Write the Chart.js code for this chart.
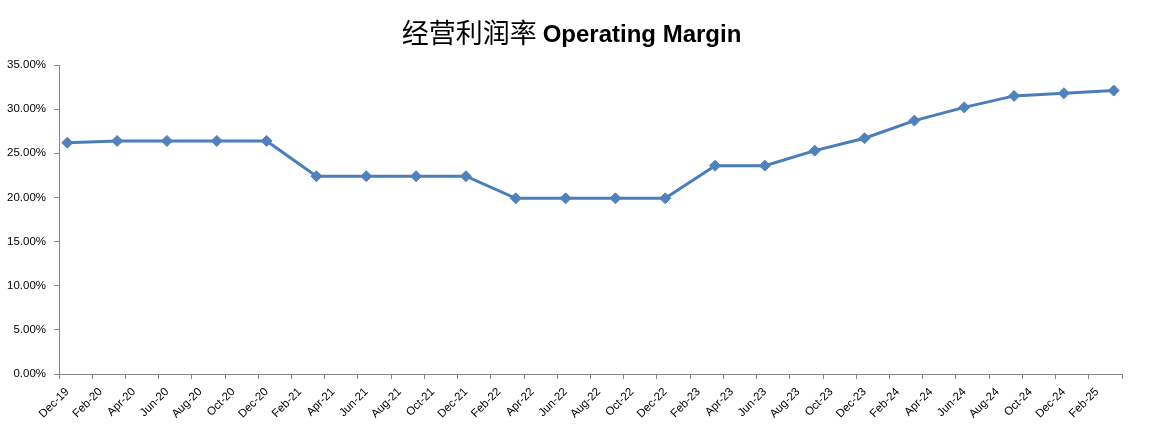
<!DOCTYPE html>
<html>
<head>
<meta charset="utf-8">
<script src="https://cdn.jsdelivr.net/npm/chart.js@4"></script>
<style>
  html, body { margin: 0; padding: 0; background: #ffffff; }
  #wrap { width: 1159px; height: 447px; }
</style>
</head>
<body>
<div id="wrap"><canvas id="c" width="1159" height="447"></canvas></div>
<script>
// ---- data ----
const titleCn = '经营利润率';
const titleEn = 'Operating Margin';
const quarters = ['Dec-19','Mar-20','Jun-20','Sep-20','Dec-20','Mar-21','Jun-21','Sep-21','Dec-21',
  'Mar-22','Jun-22','Sep-22','Dec-22','Mar-23','Jun-23','Sep-23','Dec-23','Mar-24','Jun-24','Sep-24','Dec-24','Mar-25'];
const marginPct = [26.2, 26.4, 26.4, 26.4, 26.4, 22.4, 22.4, 22.4, 22.4,
  19.9, 19.9, 19.9, 19.9, 23.6, 23.6, 25.3, 26.7, 28.7, 30.2, 31.5, 31.8, 32.1];
const tickLabels = ['Dec-19','Feb-20','Apr-20','Jun-20','Aug-20','Oct-20','Dec-20','Feb-21','Apr-21','Jun-21',
  'Aug-21','Oct-21','Dec-21','Feb-22','Apr-22','Jun-22','Aug-22','Oct-22','Dec-22','Feb-23','Apr-23','Jun-23',
  'Aug-23','Oct-23','Dec-23','Feb-24','Apr-24','Jun-24','Aug-24','Oct-24','Dec-24','Feb-25'];
const yTicks = [0, 5, 10, 15, 20, 25, 30, 35];

// ---- helpers ----
const MONTHS = ['Jan','Feb','Mar','Apr','May','Jun','Jul','Aug','Sep','Oct','Nov','Dec'];
function monthIndex(lbl) {
  const [m, y] = lbl.split('-');
  const base = 2019 * 12 + 11; // Dec-19
  return (2000 + parseInt(y, 10)) * 12 + MONTHS.indexOf(m) - base;
}
const points = quarters.map((q, i) => ({ x: monthIndex(q), y: marginPct[i] / 100 }));
const firstMonth = monthIndex(tickLabels[0]);
const nMonths = monthIndex(quarters[quarters.length - 1]) + 1;

const axisColor = '#868686';
const textColor = '#000000';

const titlePlugin = {
  id: 'mixedTitle',
  afterDraw(chart) {
    const ctx = chart.ctx;
    ctx.save();
    const fCn = '27px "Noto Sans CJK SC"';
    const fEn = 'bold 24px "Liberation Sans"';
    ctx.font = fCn; const wCn = ctx.measureText(titleCn).width;
    ctx.font = fEn; const wEn = ctx.measureText(titleEn).width;
    const gap = 6;
    const total = wCn + gap + wEn;
    const cx = 571.5;
    let x = cx - total / 2;
    ctx.fillStyle = '#000';
    ctx.textBaseline = 'alphabetic';
    ctx.textAlign = 'left';
    ctx.font = fCn; ctx.fillText(titleCn, x, 43);
    ctx.font = fEn; ctx.fillText(titleEn, x + wCn + gap, 42);
    ctx.restore();
  }
};

new Chart(document.getElementById('c'), {
  type: 'line',
  data: {
    datasets: [{
      label: titleEn,
      data: points,
      borderColor: '#4A7EBB',
      backgroundColor: '#4F81BD',
      borderWidth: 3,
      pointStyle: 'rectRot',
      pointRadius: 5.5,
      pointHoverRadius: 5.5,
      pointBackgroundColor: '#4F81BD',
      pointBorderColor: '#4F81BD',
      pointBorderWidth: 1,
      tension: 0,
      fill: false
    }]
  },
  options: {
    responsive: false,
    animation: false,
    devicePixelRatio: 1,
    layout: { padding: { top: 65, right: 37, bottom: 0, left: 0 } },
    plugins: {
      legend: { display: false },
      title: { display: false },
      tooltip: { enabled: false }
    },
    scales: {
      x: {
        type: 'linear',
        min: firstMonth - 0.5,
        max: nMonths - 0.5,
        afterBuildTicks(scale) {
          const t = [];
          for (let i = 0; i <= tickLabels.length; i++) t.push({ value: firstMonth - 0.5 + 2 * i });
          scale.ticks = t;
        },
        afterFit(scale) { scale.height = 73; },
        border: { display: true, color: axisColor, width: 1 },
        grid: { display: true, drawOnChartArea: false, drawTicks: true, tickLength: 5, color: axisColor },
        ticks: {
          autoSkip: false,
          minRotation: 45,
          maxRotation: 45,
          labelOffset: 8.3,
          padding: 6,
          color: textColor,
          font: { family: '"Liberation Sans", Arial, sans-serif', size: 11.5 },
          callback: (v, i) => tickLabels[i] || ''
        }
      },
      y: {
        min: 0,
        max: 0.35,
        afterBuildTicks(scale) { scale.ticks = yTicks.map(v => ({ value: v / 100 })); },
        afterFit(scale) { scale.width = 59; },
        border: { display: true, color: axisColor, width: 1 },
        grid: { display: true, drawOnChartArea: false, drawTicks: true, tickLength: 5, color: axisColor },
        ticks: {
          padding: 8,
          color: textColor,
          font: { family: '"Liberation Sans", Arial, sans-serif', size: 11.5 },
          callback: v => (v * 100).toFixed(2) + '%'
        }
      }
    }
  },
  plugins: [titlePlugin]
});
</script>
</body>
</html>
